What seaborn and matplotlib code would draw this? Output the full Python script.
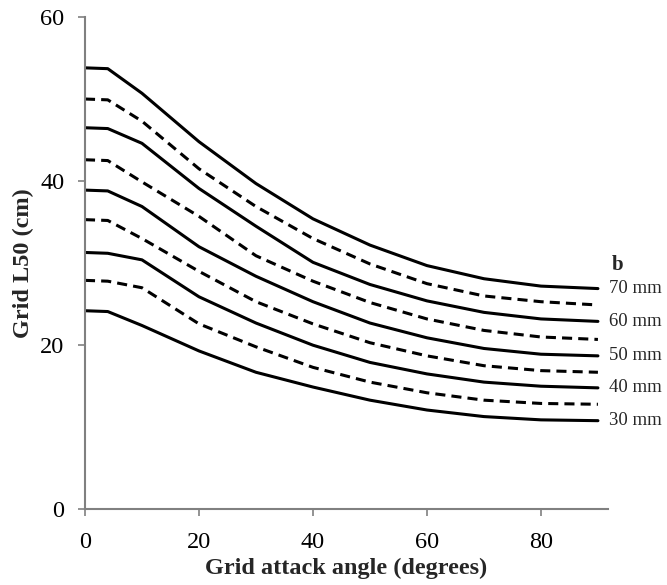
import pandas as pd
import matplotlib
matplotlib.use("Agg")
import matplotlib.pyplot as plt
import seaborn as sns

# Grid attack angle (degrees)
angle = [0, 4, 10, 20, 30, 40, 50, 60, 70, 80, 90]

# Grid L50 (cm) for each bar spacing b
l50_70 = [53.8, 53.7, 50.7, 44.8, 39.7, 35.4, 32.2, 29.7, 28.1, 27.2, 26.9]
l50_65 = [50.0, 49.9, 47.3, 41.5, 36.9, 33.0, 29.9, 27.5, 26.0, 25.3, 24.9]
l50_60 = [46.5, 46.4, 44.6, 39.1, 34.5, 30.1, 27.4, 25.4, 24.0, 23.2, 22.9]
l50_55 = [42.6, 42.5, 39.9, 35.7, 30.9, 27.8, 25.2, 23.2, 21.8, 21.0, 20.7]
l50_50 = [38.9, 38.8, 36.9, 32.0, 28.4, 25.3, 22.7, 20.9, 19.6, 18.9, 18.7]
l50_45 = [35.3, 35.2, 33.0, 29.0, 25.3, 22.6, 20.3, 18.7, 17.5, 16.9, 16.7]
l50_40 = [31.3, 31.2, 30.4, 25.9, 22.7, 20.0, 17.9, 16.5, 15.5, 15.0, 14.8]
l50_35 = [27.9, 27.8, 27.0, 22.6, 19.8, 17.3, 15.5, 14.2, 13.3, 12.9, 12.8]
l50_30 = [24.2, 24.1, 22.4, 19.3, 16.7, 14.9, 13.3, 12.1, 11.3, 10.9, 10.8]

curves = {
    70: l50_70, 65: l50_65, 60: l50_60, 55: l50_55, 50: l50_50,
    45: l50_45, 40: l50_40, 35: l50_35, 30: l50_30,
}
labelled = [70, 60, 50, 40, 30]

rows = []
for b, vals in curves.items():
    for a, v in zip(angle, vals):
        rows.append({"angle": a, "L50": v, "b": b})
df = pd.DataFrame(rows)

sns.set_style("ticks")
plt.rcParams["font.family"] = ["Liberation Serif", "DejaVu Serif"]

fig = plt.figure(figsize=(6.67, 5.85), dpi=100)
ax = fig.add_axes([0.1274, 0.1294, 0.784, 0.8416])

for b in curves:
    sub = df[df["b"] == b]
    solid = b in labelled
    sns.lineplot(data=sub, x="angle", y="L50", ax=ax, color="black",
                 linewidth=2.2, linestyle="-" if solid else (0, (3.3, 2.0)),
                 legend=False)
    if solid:
        ax.text(91.9, curves[b][-1], f"{b} mm", fontsize=13.5,
                va="center", ha="left", clip_on=False)

ax.text(92.4, 29.8, "b", fontsize=15, fontweight="bold", va="center", ha="left")

ax.set_xlim(0, 91.75)
ax.set_ylim(0, 60)
ax.set_xticks([0, 20, 40, 60, 80])
ax.set_yticks([0, 20, 40, 60])
ax.tick_params(colors="#808080", labelcolor="black", labelsize=17.5,
               length=5, width=1.2, direction="out")
ax.tick_params(axis="x", pad=11)
ax.tick_params(axis="y", pad=10)
for s in ["left", "bottom"]:
    ax.spines[s].set_color("#808080")
    ax.spines[s].set_linewidth(1.5)
sns.despine(ax=ax)

ax.set_xlabel("Grid attack angle (degrees)", fontsize=17.5, fontweight="bold", labelpad=4)
ax.set_ylabel("Grid L50 (cm)", fontsize=17.5, fontweight="bold", labelpad=4)

fig.savefig("out.png", dpi=100)
